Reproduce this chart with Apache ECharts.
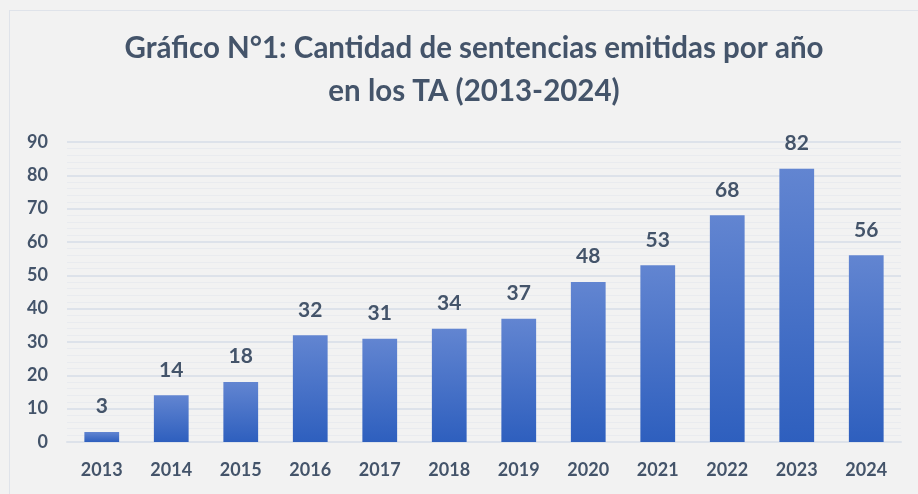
<!DOCTYPE html>
<html>
<head>
<meta charset="utf-8">
<script src="https://cdn.jsdelivr.net/npm/echarts@6/dist/echarts.min.js"></script>
<style>
  html, body { margin: 0; padding: 0; background: #f2f2f2; }
  #frame {
    position: absolute; left: 9px; top: 10px; width: 920px; height: 500px;
    border: 1.5px solid #dfe3ea; box-sizing: border-box;
  }
  #chart { position: absolute; left: 0; top: 0; width: 918px; height: 494px; }
</style>
</head>
<body>
<div id="frame"></div>
<div id="chart"></div>
<script>
// datos del gráfico
const years = ['2013', '2014', '2015', '2016', '2017', '2018', '2019', '2020', '2021', '2022', '2023', '2024'];
const sentencias = [3, 14, 18, 32, 31, 34, 37, 48, 53, 68, 82, 56];
const yTicks = [0, 10, 20, 30, 40, 50, 60, 70, 80, 90];

const textColor = '#44546a';
const chart = echarts.init(document.getElementById('chart'));

chart.setOption({
  backgroundColor: 'transparent',
  textStyle: { fontFamily: 'Lato', fontWeight: 'bold', color: textColor },
  title: {
    text: 'Gráfico N°1: Cantidad de sentencias emitidas por año\nen los TA (2013-2024)',
    left: 469,
    textAlign: 'center',
    top: 22,
    textStyle: {
      fontFamily: 'Lato',
      fontSize: 29.5,
      fontWeight: 'bold',
      color: textColor,
      lineHeight: 43
    }
  },
  grid: {
    left: 67,
    right: 17,
    top: 142,
    bottom: 52,
    containLabel: false
  },
  xAxis: {
    type: 'category',
    data: years,
    axisTick: { show: false },
    axisLine: { lineStyle: { color: '#dde2ea', width: 2 } },
    axisLabel: {
      color: textColor,
      fontSize: 18,
      fontWeight: 'bold',
      margin: 19
    }
  },
  yAxis: {
    type: 'value',
    min: yTicks[0],
    max: yTicks[yTicks.length - 1],
    interval: 10,
    axisLine: { show: false },
    axisTick: { show: false },
    axisLabel: {
      color: textColor,
      fontSize: 18,
      fontWeight: 'bold',
      margin: 19
    },
    splitLine: { lineStyle: { color: '#dde2ea', width: 2 } },
    minorTick: { show: false, splitNumber: 5 },
    minorSplitLine: { show: true, lineStyle: { color: '#e9ebef', width: 1 } }
  },
  series: [
    {
      type: 'bar',
      data: sentencias,
      barCategoryGap: '50%',
      itemStyle: {
        color: {
          type: 'linear',
          x: 0, y: 0, x2: 0, y2: 1,
          colorStops: [
            { offset: 0, color: '#6285d1' },
            { offset: 1, color: '#2e5fbe' }
          ]
        }
      },
      label: {
        show: true,
        position: 'top',
        distance: 15,
        color: textColor,
        fontSize: 21,
        fontWeight: 'bold',
        fontFamily: 'Lato'
      }
    }
  ]
});
</script>
</body>
</html>
